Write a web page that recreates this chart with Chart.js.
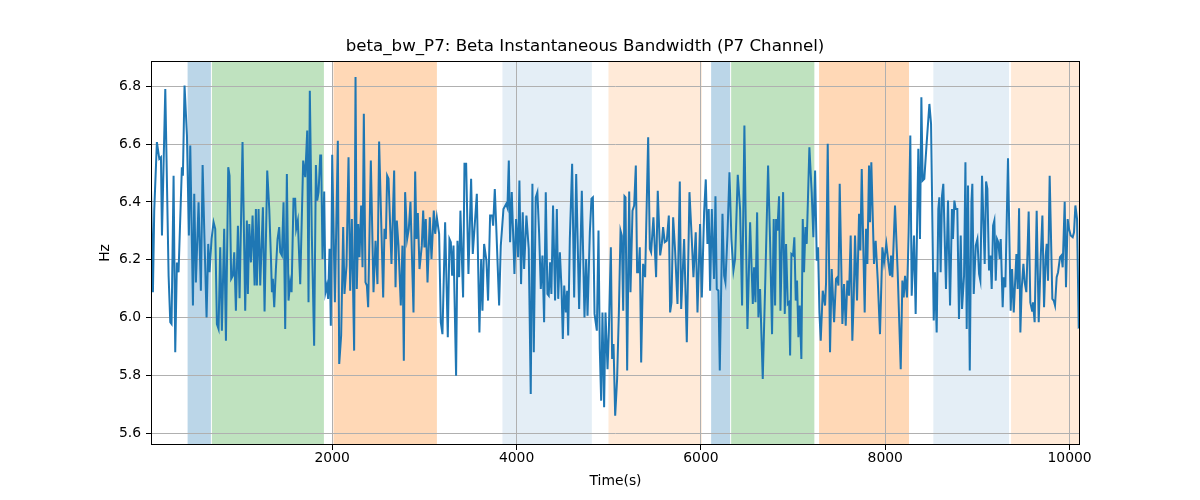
<!DOCTYPE html>
<html>
<head>
<meta charset="utf-8">
<script src="https://cdn.jsdelivr.net/npm/chart.js@4.4.1/dist/chart.umd.min.js"></script>
<style>
  body { margin: 0; background: #fff; }
</style>
</head>
<body>
<canvas id="bwChart" width="1200" height="500"></canvas>
<script>
// time stamps (s) and beta bandwidth (Hz)
const times = [
  34, 55, 69, 98, 124, 142, 153, 189, 225, 243, 257, 279, 297, 315, 333,
  369, 380, 398, 424, 445, 460, 489, 503, 521, 550, 575, 594, 615, 637, 655,
  669, 691, 713, 731, 749, 767, 785, 803, 828, 847, 872, 886, 904, 922, 937,
  955, 977, 995, 1027, 1056, 1074, 1085, 1100, 1118, 1136, 1158, 1172, 1183, 1201, 1219,
  1248, 1266, 1295, 1317, 1335, 1346, 1356, 1371, 1389, 1407, 1425, 1436, 1454, 1472, 1490,
  1508, 1526, 1544, 1559, 1580, 1598, 1609, 1627, 1653, 1685, 1707, 1729, 1743, 1757, 1779,
  1804, 1823, 1837, 1852, 1870, 1880, 1895, 1913, 1927, 1942, 1956, 1971, 1985, 2000, 2029,
  2061, 2076, 2097, 2119, 2133, 2155, 2177, 2195, 2213, 2238, 2253, 2267, 2282, 2296, 2314,
  2329, 2343, 2361, 2376, 2390, 2419, 2448, 2470, 2491, 2509, 2553, 2567, 2582, 2596, 2611,
  2643, 2672, 2687, 2701, 2719, 2744, 2762, 2777, 2791, 2813, 2831, 2849, 2882, 2900, 2914,
  2929, 2947,
  2972, 2987, 3001, 3015, 3034, 3059, 3077, 3102, 3117, 3135, 3160, 3178, 3196, 3225, 3254,
  3272, 3287, 3301, 3316, 3344, 3359, 3377, 3391, 3420, 3435, 3453, 3478, 3507, 3525, 3569,
  3597, 3616, 3630, 3648, 3673, 3691, 3713, 3735, 3746, 3764, 3782, 3811, 3829, 3858, 3887,
  3901, 3916, 3930, 3948, 3977, 3995, 4017, 4031, 4049, 4067, 4082, 4107, 4132, 4154, 4172,
  4187, 4208, 4226, 4245, 4263, 4281, 4299, 4317, 4335, 4349, 4364, 4378, 4396, 4418,
  4437, 4452, 4470, 4488, 4502, 4517, 4535, 4549, 4560, 4578, 4603, 4625, 4647, 4679, 4708,
  4737, 4755, 4770, 4795, 4813, 4828, 4846, 4871, 4889, 4903, 4918, 4932, 4950, 4965, 4987,
  5001, 5023, 5037, 5052, 5070, 5091, 5110, 5128, 5142, 5157, 5171, 5182, 5200, 5222, 5236,
  5258, 5276, 5294, 5308, 5323, 5337, 5352, 5373, 5395, 5428, 5446, 5460, 5485, 5514, 5532,
  5558, 5576, 5590, 5608, 5630, 5652, 5666, 5681, 5699, 5720, 5746, 5771, 5786, 5818, 5847,
  5876,
  5901, 5919, 5944, 5963, 5991, 6010, 6035, 6053, 6071, 6085, 6100, 6118, 6143, 6158, 6172,
  6190, 6205, 6234, 6252, 6266, 6288, 6310, 6331, 6353, 6371, 6400, 6425, 6447, 6472, 6487,
  6505, 6534, 6563, 6577, 6592, 6610, 6624, 6642, 6671, 6700, 6729, 6751, 6772, 6790, 6805,
  6816, 6830, 6848, 6863, 6892, 6910, 6924, 6942, 6957, 6968, 6982, 7000, 7014, 7029, 7043,
  7058, 7072, 7090, 7105, 7119, 7134, 7148, 7177, 7202, 7220, 7239, 7257, 7271, 7286, 7300,
  7322, 7347,
  7358, 7376, 7401, 7419, 7445, 7466, 7481, 7492, 7506, 7535, 7553, 7571, 7589, 7607, 7625,
  7643, 7658, 7672, 7694, 7716, 7730, 7745, 7763, 7777, 7792, 7806, 7824, 7835, 7849, 7878,
  7896, 7918, 7943, 7969, 7987, 8012, 8034, 8052, 8063, 8077, 8106, 8135, 8168, 8186, 8200,
  8215, 8236, 8254, 8272, 8287, 8312, 8330, 8359, 8377, 8392, 8406, 8424, 8450, 8479, 8497,
  8526, 8540, 8558, 8576, 8587, 8601, 8616, 8630, 8659, 8681, 8703, 8724, 8735, 8750, 8764,
  8782, 8800,
  8819, 8833, 8855, 8870, 8884, 8898, 8917, 8935, 8945, 8960, 8982, 9000, 9018, 9032, 9050,
  9079, 9094, 9108, 9126, 9141, 9155, 9170, 9184, 9199, 9213, 9227, 9242, 9253, 9274, 9285,
  9303, 9332, 9361, 9376, 9394, 9423, 9437, 9452, 9466, 9480, 9499, 9513, 9531, 9556, 9574,
  9593, 9603, 9621, 9643, 9665, 9687, 9705, 9723, 9741, 9752, 9766, 9784, 9813, 9828, 9842,
  9860, 9875, 9896, 9911, 9925, 9947, 9961, 9979, 9994, 10012, 10034, 10048, 10063, 10081, 10099,
  10113
];
const bandwidth = [
  6.445, 6.088, 6.370, 6.607, 6.549, 6.555, 6.284, 6.791, 6.145, 5.984, 5.978, 6.491, 5.880, 6.191, 6.157,
  6.520, 6.491, 6.803, 6.630, 6.284, 6.595, 6.042, 6.428, 6.122, 6.399, 6.093, 6.528, 6.261, 6.001, 6.255,
  6.157, 6.272, 6.330, 6.307, 5.978, 5.961, 6.243, 5.955, 6.307, 5.920, 6.520, 6.491, 6.134, 6.145, 6.226,
  6.024, 6.318, 6.067, 6.607, 6.024, 6.336, 6.082, 6.324, 6.191, 6.353, 6.111, 6.376, 6.111, 6.376, 6.111,
  6.382, 6.021, 6.509, 6.376, 6.209, 6.088, 6.134, 6.036, 6.168, 6.272, 6.313, 6.226, 6.215, 6.399, 5.961,
  6.497, 6.059, 6.122, 6.088, 6.411, 6.411, 6.307, 6.336, 6.116, 6.543, 6.486, 6.647, 6.053, 6.785, 6.284,
  5.903, 6.528, 6.405, 6.434, 6.561, 6.561, 6.203, 6.436, 6.088, 6.111, 6.065, 6.238, 5.972, 6.563, 6.053,
  6.612, 5.840, 5.938, 6.313, 6.082, 6.180, 6.555, 6.093, 6.341, 5.886, 6.832, 6.099, 6.324, 6.209, 6.388,
  6.174, 6.705, 6.122, 6.111, 6.036, 6.543, 6.088, 6.266, 6.116, 6.609, 6.070, 6.307, 6.272, 6.491, 6.480,
  6.186, 6.509, 6.105, 6.336, 6.249, 6.042, 6.249, 5.851, 6.434, 6.272, 6.307, 6.401, 6.018, 6.505, 6.272,
  6.362, 6.168,
  6.249, 6.370, 6.243, 6.341, 6.122, 6.347, 6.203, 6.370, 6.290, 6.347, 6.290, 5.984, 5.943, 6.330, 5.932,
  6.272, 6.261, 6.145, 6.249, 5.799, 6.266, 6.140, 6.370, 6.070, 6.532, 6.532, 6.151, 6.480, 6.220, 6.428,
  5.949, 6.203, 6.024, 6.255, 6.197, 6.059, 6.353, 6.353, 6.318, 6.445, 6.295, 6.042, 6.249, 6.376, 6.393,
  6.380, 6.543, 6.261, 6.434, 6.151, 6.341, 6.209, 6.474, 6.116, 6.364, 6.168, 6.353, 6.238, 5.736, 6.463,
  5.880, 6.416, 6.434, 6.290, 6.099, 6.215, 5.984, 6.434, 6.082, 6.076, 6.191, 6.082, 6.388, 6.059,
  6.376, 6.065, 6.226, 6.099, 5.926, 6.111, 6.018, 6.093, 5.938, 6.272, 6.532, 6.070, 6.497, 6.030, 6.439,
  6.001, 6.203, 6.007, 6.295, 6.411, 6.416, 6.013, 5.955, 6.301, 5.892, 5.713, 6.018, 5.690, 6.018, 5.822,
  5.949, 6.243, 5.857, 5.909, 5.661, 5.788, 6.018, 6.301, 6.284, 6.024, 6.420, 6.416, 5.817, 6.436, 6.088,
  6.370, 6.388, 6.526, 6.157, 6.157, 6.243, 5.845, 6.186, 6.140, 6.624, 6.238, 6.226, 6.347, 6.140, 6.439,
  6.215, 6.255, 6.313, 6.261, 6.266, 6.353, 6.018, 6.053, 6.347, 6.232, 6.047, 6.471, 6.030, 6.272, 5.915,
  6.434,
  6.272, 6.140, 6.295, 6.018, 6.324, 6.070, 6.364, 6.478, 6.255, 6.376, 6.093, 6.376, 6.134, 6.420, 6.099,
  6.093, 5.817, 6.359, 6.145, 6.122, 6.284, 6.503, 6.272, 6.163, 6.203, 6.494, 6.376, 6.042, 6.664, 6.318,
  5.961, 6.330, 6.047, 6.174, 6.053, 6.364, 6.001, 6.099, 5.788, 6.145, 6.526, 6.261, 5.943, 6.341, 6.042,
  6.341, 6.301, 6.420, 6.024, 6.434, 6.013, 6.255, 6.047, 6.053, 5.869, 6.220, 6.215, 6.278, 6.059, 6.128,
  5.932, 6.042, 5.857, 6.341, 6.157, 6.313, 6.255, 6.589, 6.434, 6.278, 6.509, 6.197, 6.243, 6.018, 5.920,
  6.093, 6.042,
  6.122, 6.601, 5.880, 6.168, 5.984, 6.134, 6.140, 6.111, 6.463, 5.978, 6.116, 5.972, 6.128, 6.076, 6.284,
  5.920, 6.065, 6.284, 6.059, 6.359, 6.232, 6.514, 6.226, 6.018, 6.307, 6.186, 6.526, 6.330, 6.537, 6.186,
  6.266, 6.134, 5.943, 6.243, 6.191, 6.255, 6.191, 6.145, 6.215, 6.140, 6.388, 6.157, 5.822, 6.128, 6.070,
  6.145, 6.070, 6.295, 6.630, 6.076, 6.284, 6.013, 6.584, 6.272, 6.762, 6.474, 6.480, 6.607, 6.739, 6.670,
  5.990, 6.157, 5.949, 6.376, 6.416, 6.157, 6.422, 6.463, 6.099, 6.405, 6.042, 6.376, 6.272, 6.405, 6.376,
  6.376, 5.995,
  6.284, 6.030, 6.145, 6.537, 5.961, 6.457, 5.817, 6.399, 6.463, 6.082, 6.249, 6.272, 6.151, 6.128, 6.491,
  6.186, 6.471, 6.445, 6.163, 6.215, 6.099, 6.318, 6.336, 6.128, 6.272, 6.261, 6.203, 6.272, 6.036, 6.140,
  6.105, 6.551, 6.024, 6.168, 6.018, 6.220, 6.099, 6.378, 5.949, 6.099, 6.186, 6.122, 6.088, 6.367, 6.053,
  6.024, 6.053, 5.984, 6.370, 5.984, 6.209, 6.353, 6.036, 6.215, 6.255, 6.128, 6.491, 6.065, 6.059, 6.042,
  6.140, 6.157, 6.209, 6.215, 6.174, 6.401, 6.105, 6.341, 6.307, 6.284, 6.278, 6.295, 6.388, 6.341, 5.967,
  5.970
];

const xTicks = [2000, 4000, 6000, 8000, 10000];
const yTicks = [5.6, 5.8, 6.0, 6.2, 6.4, 6.6, 6.8];

// shaded spans (start, end in seconds) and their kind
const spanStart = [431, 695, 2014, 3847, 4997, 6111, 6328, 7282, 8522, 9365];
const spanEnd = [684, 1910, 3136, 4817, 6010, 6317, 7231, 8258, 9343, 10113];
const spanKind = ['blue', 'green', 'orange', 'paleBlue', 'paleOrange', 'blue', 'green', 'orange', 'paleBlue', 'paleOrange'];
const spanColor = {
    blue: 'rgba(31,119,180,0.3)',
    green: 'rgba(44,160,44,0.3)',
    orange: 'rgba(255,127,14,0.3)',
    paleBlue: 'rgba(31,119,180,0.12)',
    paleOrange: 'rgba(255,127,14,0.16)'
};

Chart.defaults.font.family = 'DejaVu Sans';
Chart.defaults.color = '#000';

const spansPlugin = {
    id: 'spans',
    beforeDraw(chart) {
        const {ctx, chartArea, scales} = chart;
        ctx.save();
        ctx.beginPath();
        ctx.rect(chartArea.left, chartArea.top, chartArea.width, chartArea.height);
        ctx.clip();
        spanStart.forEach((s, i) => {
            const x0 = scales.x.getPixelForValue(s);
            const x1 = scales.x.getPixelForValue(spanEnd[i]);
            ctx.fillStyle = spanColor[spanKind[i]];
            ctx.fillRect(x0, chartArea.top, x1 - x0, chartArea.height);
        });
        ctx.restore();
    },
    afterDraw(chart) {
        const {ctx, chartArea} = chart;
        ctx.save();
        ctx.strokeStyle = '#000';
        ctx.lineWidth = 1;
        ctx.strokeRect(chartArea.left + 0.5, chartArea.top + 0.5, chartArea.width - 1, chartArea.height - 1);
        ctx.restore();
    }
};

new Chart('bwChart', {
    type: 'line',
    data: {
        datasets: [{
            data: times.map((t, i) => ({x: t, y: bandwidth[i]})),
            borderColor: '#1f77b4',
            borderWidth: 2,
            pointRadius: 0,
            tension: 0,
            fill: false
        }]
    },
    options: {
        responsive: false,
        animation: false,
        layout: { padding: { left: 90, right: 120, top: 0, bottom: 0 } },
        plugins: {
            legend: { display: false },
            tooltip: { enabled: false },
            title: {
                display: true,
                text: 'beta_bw_P7: Beta Instantaneous Bandwidth (P7 Channel)',
                color: '#000',
                font: { size: 16.67, weight: 'normal' },
                padding: { top: 36.5, bottom: 4.5 }
            }
        },
        scales: {
            x: {
                type: 'linear',
                min: 34,
                max: 10113,
                afterBuildTicks: s => { s.ticks = xTicks.map(v => ({value: v})); },
                afterFit: s => { s.height = 55; },
                ticks: {
                    callback: v => String(v),
                    font: { size: 13.9 },
                    padding: 0,
                    maxRotation: 0,
                    autoSkip: false
                },
                grid: { color: '#b0b0b0', lineWidth: 1, tickColor: '#000', tickLength: 5 },
                border: { display: false },
                title: {
                    display: true,
                    text: 'Time(s)',
                    font: { size: 13.9 },
                    padding: { top: 10.7, bottom: 10.7 }
                }
            },
            y: {
                type: 'linear',
                min: 5.5596,
                max: 6.8875,
                afterBuildTicks: s => { s.ticks = yTicks.map(v => ({value: v})); },
                afterFit: s => { s.width = 61; },
                ticks: {
                    callback: v => v.toFixed(1),
                    font: { size: 13.9 },
                    padding: 5,
                    autoSkip: false
                },
                grid: { color: '#b0b0b0', lineWidth: 1, tickColor: '#000', tickLength: 5 },
                border: { display: false },
                title: {
                    display: true,
                    text: 'Hz',
                    font: { size: 13.9 },
                    padding: { top: 6.7, bottom: 6.7 }
                }
            }
        }
    },
    plugins: [spansPlugin]
});
</script>
</body>
</html>
